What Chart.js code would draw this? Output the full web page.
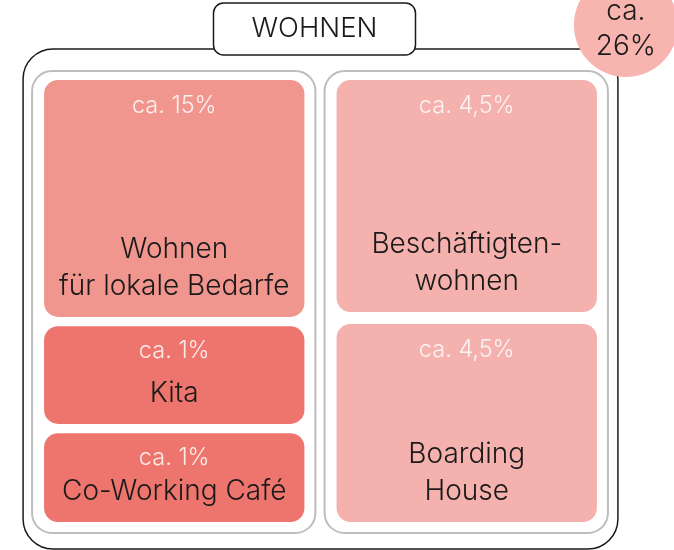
<!DOCTYPE html>
<html>
<head>
<meta charset="utf-8">
<script src="https://cdn.jsdelivr.net/npm/chart.js@4"></script>
<style>
  html, body { margin: 0; padding: 0; background: #fff; }
  #wrap { width: 674px; height: 550px; position: relative; }
</style>
</head>
<body>
<div id="wrap"><canvas id="chart"></canvas></div>
<script>
// Daten
var titel = 'WOHNEN';
var gesamt = 26;
var kategorien = ['Wohnen\nfür lokale Bedarfe', 'Kita', 'Co-Working Café', 'Beschäftigten-\nwohnen', 'Boarding\nHouse'];
var anteile = [15, 1, 1, 4.5, 4.5];
var spalten = ['links', 'links', 'links', 'rechts', 'rechts'];
var spaltenNamen = ['links', 'rechts'];

// Layout der Kacheln (Rastereinheiten 0..100 je Spalte, von oben)
var raster = [[0, 53.6], [55.7, 77.8], [79.9, 100], [0, 52.5], [55.2, 100]];
var farben = ['#F1968F', '#EE756D', '#EE756D', '#F4B1AD', '#F4B1AD'];

function fmt(v) {
    return 'ca. ' + String(v).replace('.', ',') + '%';
}

var FONT = 'Inter, "Noto Sans", sans-serif';

function rundRect(ctx, x, y, w, h, r) {
    ctx.beginPath();
    ctx.moveTo(x + r, y);
    ctx.arcTo(x + w, y, x + w, y + h, r);
    ctx.arcTo(x + w, y + h, x, y + h, r);
    ctx.arcTo(x, y + h, x, y, r);
    ctx.arcTo(x, y, x + w, y, r);
    ctx.closePath();
}

function spaltenBox(meta, name) {
    var box = null;
    meta.data.forEach(function (el, i) {
        if (spalten[i] !== name) return;
        var l = el.x - el.width / 2, r = el.x + el.width / 2;
        var t = Math.min(el.y, el.base), b = Math.max(el.y, el.base);
        if (!box) box = {l: l, r: r, t: t, b: b};
        else {
            box.l = Math.min(box.l, l); box.r = Math.max(box.r, r);
            box.t = Math.min(box.t, t); box.b = Math.max(box.b, b);
        }
    });
    return box;
}

var rahmen = {
    id: 'rahmen',
    beforeDatasetsDraw: function (chart) {
        var ctx = chart.ctx;
        var meta = chart.getDatasetMeta(0);
        var panels = spaltenNamen.map(function (n) {
            var b = spaltenBox(meta, n);
            return {l: b.l - 12, r: b.r + 11, t: b.t - 9, b: b.b + 11};
        });
        ctx.save();
        // äußerer Rahmen
        var ol = panels[0].l - 9, or = panels[1].r + 10, ot = panels[0].t - 22, ob = panels[0].b + 16;
        ctx.strokeStyle = '#1a1a1a';
        ctx.lineWidth = 1.5;
        rundRect(ctx, ol, ot, or - ol, ob - ot, 30);
        ctx.stroke();
        // graue Spalten
        ctx.strokeStyle = '#bdbdbd';
        ctx.lineWidth = 2;
        panels.forEach(function (p) {
            rundRect(ctx, p.l, p.t, p.r - p.l, p.b - p.t, 20);
            ctx.stroke();
        });
        // Titelbox
        var cx = (ol + or) / 2 - 6;
        ctx.fillStyle = '#fff';
        ctx.strokeStyle = '#1a1a1a';
        ctx.lineWidth = 1.5;
        rundRect(ctx, cx - 101, ot - 46, 202, 52, 10);
        ctx.fill();
        ctx.stroke();
        ctx.fillStyle = '#1a1a1a';
        ctx.font = '300 27.5px ' + FONT;
        ctx.textAlign = 'center';
        ctx.textBaseline = 'middle';
        ctx.fillText(titel, cx, ot - 20);
        // Kreis mit Gesamtanteil
        var kx = or + 8, ky = ot - 24;
        ctx.fillStyle = '#F8B5AF';
        ctx.beginPath();
        ctx.arc(kx, ky, 52, 0, Math.PI * 2);
        ctx.fill();
        ctx.fillStyle = '#1a1a1a';
        ctx.font = '300 28px ' + FONT;
        ctx.fillText('ca.', kx, ky - 13);
        ctx.fillText(gesamt + '%', kx, ky + 22);
        ctx.restore();
    },
    afterDatasetsDraw: function (chart) {
        var ctx = chart.ctx;
        var meta = chart.getDatasetMeta(0);
        ctx.save();
        ctx.textAlign = 'center';
        ctx.textBaseline = 'middle';
        meta.data.forEach(function (el, i) {
            var t = Math.min(el.y, el.base), b = Math.max(el.y, el.base);
            var zeilen = kategorien[i].split('\n');
            var hoch = b - t > 150;
            ctx.fillStyle = 'rgba(255,255,255,0.85)';
            ctx.font = '300 23.5px ' + FONT;
            ctx.fillText(fmt(anteile[i]), el.x, t + (hoch ? 26 : 25));
            ctx.fillStyle = '#1a1a1a';
            ctx.font = '300 28px ' + FONT;
            zeilen.forEach(function (z, k) {
                ctx.fillText(z, el.x, b - 30 - (zeilen.length - 1 - k) * 37.5);
            });
        });
        ctx.restore();
    }
};

new Chart(document.getElementById('chart'), {
    type: 'bar',
    data: {
        labels: spaltenNamen,
        datasets: [{
            data: kategorien.map(function (k, i) {
                return {x: spalten[i], y: raster[i]};
            }),
            backgroundColor: farben,
            borderRadius: 14,
            borderSkipped: false,
            barPercentage: 1,
            categoryPercentage: 0.89
        }]
    },
    options: {
        responsive: true,
        maintainAspectRatio: false,
        animation: false,
        layout: {padding: {left: 28, right: 61, top: 80, bottom: 28}},
        plugins: {legend: {display: false}, tooltip: {enabled: false}},
        scales: {
            x: {display: false},
            y: {display: false, min: 0, max: 100, reverse: true}
        }
    },
    plugins: [rahmen]
});
</script>
</body>
</html>
